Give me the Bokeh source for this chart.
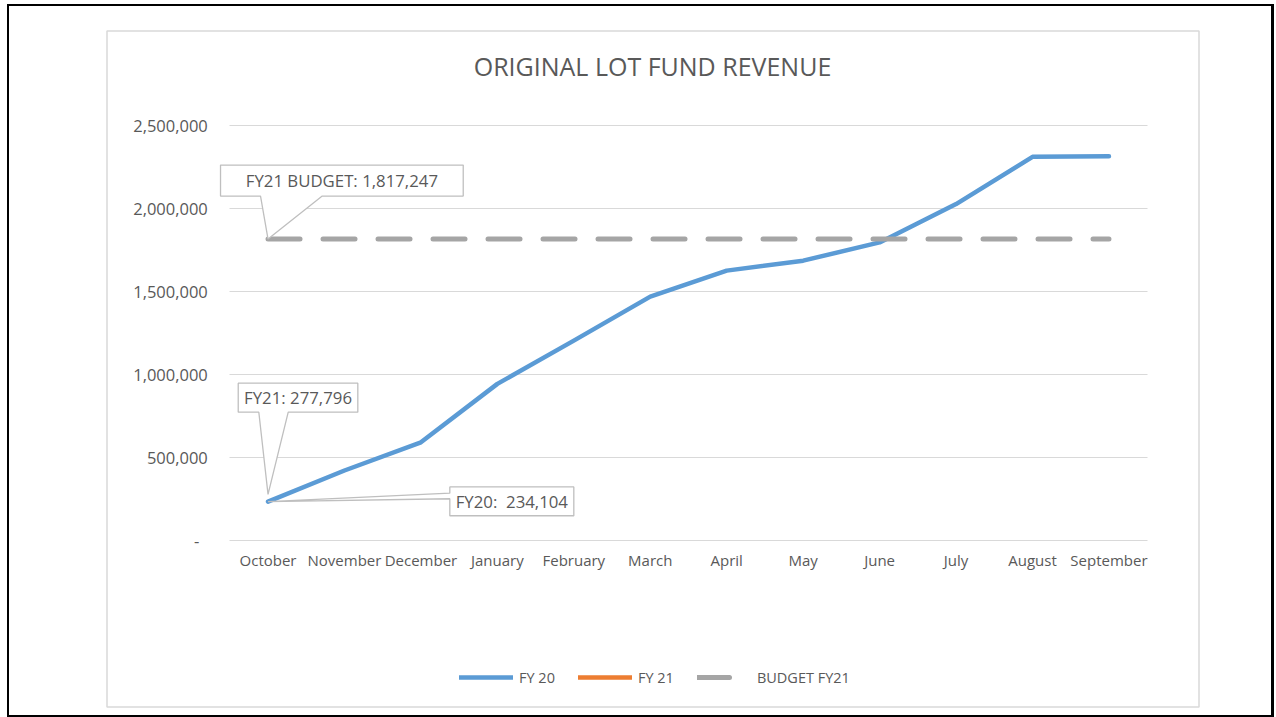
from bokeh.plotting import figure
from bokeh.models import (FactorRange, Range1d, FixedTicker, NumeralTickFormatter,
                          Legend, LegendItem, Label, PolyAnnotation, BoxAnnotation)
from bokeh.embed import file_html
from bokeh.resources import INLINE

# ---------------- data ----------------
months = ["October", "November", "December", "January", "February", "March",
          "April", "May", "June", "July", "August", "September"]
fy20 = [234104, 422000, 592000, 944000, 1205000, 1470000,
        1627000, 1687000, 1797000, 2028000, 2313000, 2317000]
fy21_months = ["October"]
fy21 = [277796]
budget_fy21 = [1817247, 1817247, 1817247, 1817247, 1817247, 1817247,
               1817247, 1817247, 1817247, 1817247, 1817247, 1817247]
y_ticks = [0, 500000, 1000000, 1500000, 2000000, 2500000]
series_names = ["FY 20", "FY 21", "BUDGET FY21"]
title_text = "ORIGINAL LOT FUND REVENUE"
callout_budget = "FY21 BUDGET: 1,817,247"
callout_fy21 = "FY21: 277,796"
callout_fy20 = "FY20:\u00a0 234,104"

# ---------------- layout (page pixels) ----------------
W, H = 1276, 717
FRAME_L = 100                      # frame spans FRAME_L..W, the whole height
AREA_L, AREA_R = 229.3, 1146.7     # category area
PX_TOP, PX_ZERO = 125.3, 540.0     # pixel of 2,500,000 and of 0
Y_MAX = 2500000
FONT = "Open Sans"
TXT = "#595959"

area_w = AREA_R - AREA_L
cat_w = area_w / len(months)
pad = ((W - FRAME_L) - area_w) / 2 / cat_w
scale = (PX_ZERO - PX_TOP) / Y_MAX
y_hi = PX_ZERO / scale
y_lo = -(H - PX_ZERO) / scale

p = figure(width=W, height=H,
           x_range=FactorRange(factors=months, range_padding=pad,
                               range_padding_units="absolute"),
           y_range=Range1d(y_lo, y_hi), output_backend="svg", toolbar_location=None,
           min_border_left=FRAME_L, min_border_right=0,
           min_border_top=0, min_border_bottom=0)
p.outline_line_color = None
p.background_fill_color = None
p.border_fill_color = None
# outer black frame of the screenshot, painted behind the transparent canvas
p.styles = {
    "background-color": "#ffffff",
    "background-image": ("linear-gradient(#000,#000), linear-gradient(#000,#000), "
                         "linear-gradient(#000,#000), linear-gradient(#000,#000)"),
    "background-size": "2px 713px, 1267px 2px, 1267px 2px, 3px 713px",
    "background-position": "7px 4px, 7px 4px, 7px 715px, 1271px 4px",
    "background-repeat": "no-repeat",
}

# axes (drawn inside the frame)
p.xgrid.grid_line_color = None
p.ygrid.grid_line_color = "#d9d9d9"
p.ygrid.grid_line_width = 1
p.ygrid.cross_bounds = (0, len(months))
p.yaxis.ticker = FixedTicker(ticks=y_ticks)
p.yaxis.formatter = NumeralTickFormatter(format="0,0")
p.yaxis.major_label_overrides = {0: "-\u00a0\u00a0"}
p.yaxis.fixed_location = 0
p.xaxis.fixed_location = 0
for ax in (p.xaxis, p.yaxis):
    ax.axis_line_color = None
    ax.major_tick_line_color = None
    ax.minor_tick_line_color = None
    ax.major_tick_in = 0
    ax.major_tick_out = 0
    ax.major_label_text_font = FONT
    ax.major_label_text_color = TXT
p.yaxis.major_label_text_font_size = "16.5px"
p.yaxis.major_label_standoff = 22
p.xaxis.major_label_text_font_size = "15px"
p.xaxis.major_label_standoff = 9

# series
r20 = p.line(months, fy20, line_color="#5b9bd5", line_width=4.5,
             line_cap="round", line_join="round")
r21 = p.line(fy21_months, fy21, line_color="#ed7d31", line_width=4.5,
             line_cap="round", line_join="round")
rb = p.line(months, budget_fy21, line_color="#a5a5a5", line_width=5,
            line_dash="32 23", line_cap="round")

# chart area box
p.add_layout(BoxAnnotation(left=106.5, right=1198.5, top=30.5, bottom=706.5,
                           left_units="canvas", right_units="canvas",
                           top_units="canvas", bottom_units="canvas",
                           fill_alpha=0, line_color="#d9d9d9", line_alpha=1,
                           line_width=1.5, level="underlay"))

# title
p.add_layout(Label(x=652, y=65, x_units="canvas", y_units="canvas", text=title_text,
                   text_align="center", text_baseline="middle",
                   text_font=FONT, text_font_size="25px", text_color=TXT))


def sx(i):
    return AREA_L + (i + 0.5) * cat_w


def sy(v):
    return PX_ZERO - v * scale


def add_callout(xs, ys, c, text):
    p.add_layout(PolyAnnotation(xs=xs, ys=ys, xs_units="canvas", ys_units="canvas",
                                fill_color="white", fill_alpha=1,
                                line_color="#bfbfbf", line_alpha=1, line_width=1.3))
    p.add_layout(Label(x=c[0], y=c[1], x_units="canvas", y_units="canvas", text=text,
                       text_align="center", text_baseline="middle",
                       text_font=FONT, text_font_size="16.8px", text_color=TXT))


def callout_bottom(tx, ty, box, base, text):
    L, R, T, B = box
    b1, b2 = base
    xs = [tx + L, tx + R, tx + R, tx + b2, tx, tx + b1, tx + L]
    ys = [ty + T, ty + T, ty + B, ty + B, ty, ty + B, ty + B]
    add_callout(xs, ys, (tx + (L + R) / 2, ty + (T + B) / 2), text)


def callout_left(tx, ty, box, base, text):
    L, R, T, B = box
    b1, b2 = base
    xs = [tx + L, tx + R, tx + R, tx + L, tx + L, tx, tx + L]
    ys = [ty + T, ty + T, ty + B, ty + B, ty + b2, ty, ty + b1]
    add_callout(xs, ys, (tx + (L + R) / 2, ty + (T + B) / 2), text)


callout_bottom(sx(0), sy(budget_fy21[0]), (-47.5, 195.2, -74, -43), (-7.5, 54.2), callout_budget)
callout_bottom(sx(0), sy(fy21[0]), (-29.8, 89.8, -111.2, -82.2), (-9.2, 20.2), callout_fy21)
callout_left(sx(0), sy(fy20[0]), (181.8, 305.8, -14.7, 14.1), (-8.5, -2.9), callout_fy20)

# legend
legend = Legend(items=[LegendItem(label=series_names[0], renderers=[r20]),
                       LegendItem(label=series_names[1], renderers=[r21]),
                       LegendItem(label=series_names[2], renderers=[rb])],
                orientation="horizontal", location=(459 - FRAME_L, H - 687),
                glyph_width=54, glyph_height=20, label_height=20, label_standoff=6,
                spacing=23, padding=0, margin=0, border_line_color=None,
                background_fill_alpha=0, label_text_font=FONT,
                label_text_font_size="14.5px", label_text_color=TXT)
p.add_layout(legend, "center")

open("out.html", "w").write(file_html(p, INLINE))
